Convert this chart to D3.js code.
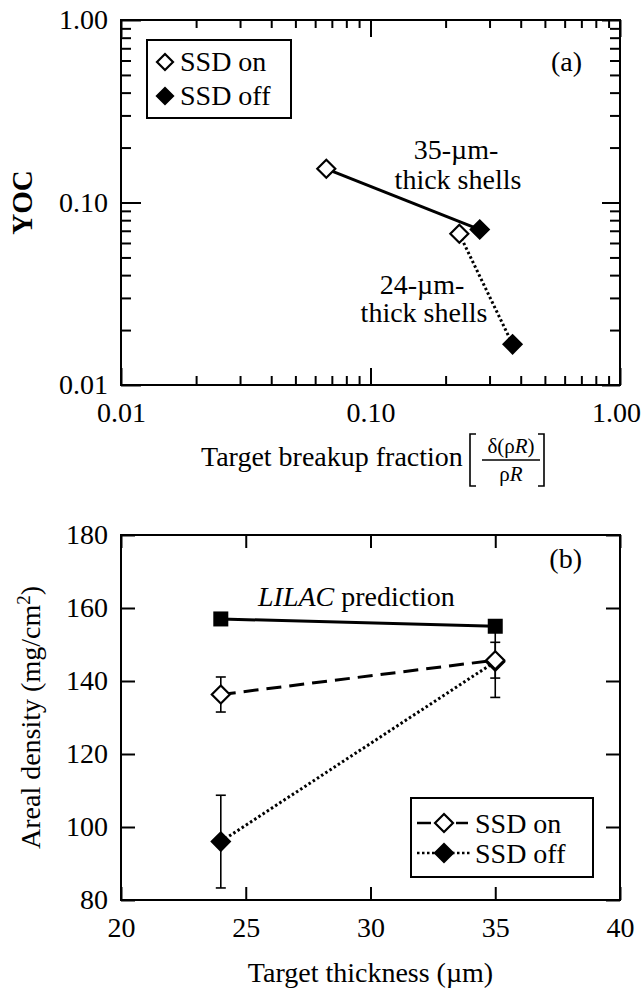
<!DOCTYPE html>
<html>
<head>
<meta charset="utf-8">
<script src="https://cdn.jsdelivr.net/npm/d3@7"></script>
</head>
<body style="margin:0;background:#fff">
<div id="chart"></div>
<script>
// panel (a): YOC vs target breakup fraction
var shells = ['35', '24'];
var breakupOn = [0.0665, 0.227];
var yocOn = [0.153, 0.0674];
var breakupOff = [0.274, 0.371];
var yocOff = [0.0711, 0.0167];
var logTicks = [0.01, 0.1, 1];

// panel (b): areal density vs target thickness
var thickness = [24, 35];
var lilac = [157, 155];
var rhoROn = [136.3, 145.7];
var rhoROnErr = [4.8, 4.9];
var rhoROff = [96, 145.3];
var rhoROffErr = [12.7, 9.8];
var thickTicks = [20, 25, 30, 35, 40];
var densityTicks = [80, 100, 120, 140, 160, 180];

var width = 642, height = 992;
var left = 121, right = 620;
var serif = '"Liberation Serif"';

var svg = d3.select('#chart').append('svg')
	.attr('width', width)
	.attr('height', height)
	.style('font-family', serif);

function label(g, x, y, str, anchor, size) {
	return g.append('text')
		.attr('x', x).attr('y', y)
		.attr('text-anchor', anchor || 'start')
		.style('font-family', serif)
		.style('font-size', (size || 28) + 'px')
		.style('fill', '#000')
		.text(str);
}

function styleAxis(g) {
	g.select('.domain').remove();
	g.attr('font-family', null).attr('font-size', null);
	g.selectAll('line').style('stroke', '#000').style('stroke-width', 2);
	g.selectAll('text').style('font-family', serif).style('font-size', '28px').style('fill', '#000');
}

function diamond(g, cx, cy, r, filled) {
	g.append('path')
		.attr('d', 'M' + cx + ',' + (cy - r) + 'L' + (cx + r) + ',' + cy + 'L' + cx + ',' + (cy + r) + 'L' + (cx - r) + ',' + cy + 'Z')
		.attr('fill', filled ? '#000' : '#fff')
		.attr('stroke', '#000')
		.attr('stroke-width', 2.2);
}

// ---------- panel (a) ----------
var aTop = 20, aBottom = 385;
var xa = d3.scaleLog().domain([0.01, 1]).range([left, right]);
var ya = d3.scaleLog().domain([0.01, 1]).range([aBottom, aTop]);

var minorLog = [];
[0.01, 0.1].forEach(function (d) {
	for (var i = 2; i <= 9; i++) minorLog.push(d * i);
});

var ga = svg.append('g');

ga.append('g').attr('transform', 'translate(0,' + aBottom + ')')
	.call(d3.axisBottom(xa).tickValues(logTicks).tickSize(-17).tickPadding(17).tickFormat(d3.format('.2f'))).call(styleAxis)
	.selectAll('text').filter(function (d) { return d === 1; }).attr('dx', -4);
ga.append('g').attr('transform', 'translate(0,' + aBottom + ')')
	.call(d3.axisBottom(xa).tickValues(minorLog).tickSize(-9).tickFormat('')).call(styleAxis);
ga.append('g').attr('transform', 'translate(0,' + aTop + ')')
	.call(d3.axisTop(xa).tickValues(logTicks).tickSize(-17).tickFormat('')).call(styleAxis);
ga.append('g').attr('transform', 'translate(0,' + aTop + ')')
	.call(d3.axisTop(xa).tickValues(minorLog).tickSize(-8).tickFormat('')).call(styleAxis);
ga.append('g').attr('transform', 'translate(' + left + ',0)')
	.call(d3.axisLeft(ya).tickValues(logTicks).tickSize(-20).tickPadding(13).tickFormat(d3.format('.2f'))).call(styleAxis);
ga.append('g').attr('transform', 'translate(' + left + ',0)')
	.call(d3.axisLeft(ya).tickValues(minorLog).tickSize(-10).tickFormat('')).call(styleAxis);
ga.append('g').attr('transform', 'translate(' + right + ',0)')
	.call(d3.axisRight(ya).tickValues(logTicks).tickSize(-18).tickFormat('')).call(styleAxis);
ga.append('g').attr('transform', 'translate(' + right + ',0)')
	.call(d3.axisRight(ya).tickValues(minorLog).tickSize(-10).tickFormat('')).call(styleAxis);

ga.append('rect')
	.attr('x', left).attr('y', aTop)
	.attr('width', right - left).attr('height', aBottom - aTop)
	.attr('fill', 'none').attr('stroke', '#000').attr('stroke-width', 2);

// lines: 35-um shells solid, 24-um shells dotted
ga.append('line')
	.attr('x1', xa(breakupOn[0])).attr('y1', ya(yocOn[0]))
	.attr('x2', xa(breakupOff[0])).attr('y2', ya(yocOff[0]))
	.attr('stroke', '#000').attr('stroke-width', 3);
ga.append('line')
	.attr('x1', xa(breakupOn[1])).attr('y1', ya(yocOn[1]))
	.attr('x2', xa(breakupOff[1])).attr('y2', ya(yocOff[1]))
	.attr('stroke', '#000').attr('stroke-width', 3).attr('stroke-dasharray', '2.5,2.5');

shells.forEach(function (s, i) {
	diamond(ga, xa(breakupOff[i]), ya(yocOff[i]), 9, true);
	diamond(ga, xa(breakupOn[i]), ya(yocOn[i]), 9, false);
});

// annotations
label(ga, 456, 159, '35-\u00b5m-', 'middle');
label(ga, 458, 189, 'thick shells', 'middle');
label(ga, 422, 294, '24-\u00b5m-', 'middle');
label(ga, 424, 322, 'thick shells', 'middle');
label(ga, 582, 71, '(a)', 'end');

// legend (a)
ga.append('rect').attr('x', 147).attr('y', 40).attr('width', 144).attr('height', 78)
	.attr('fill', '#fff').attr('stroke', '#000').attr('stroke-width', 2);
diamond(ga, 165, 62, 8, false);
diamond(ga, 165, 96, 8, true);
label(ga, 180, 71, 'SSD on');
label(ga, 180, 105, 'SSD off');

// axis titles (a)
label(ga, 0, 0, 'YOC', 'middle', 29)
	.attr('transform', 'translate(32,' + ((aTop + aBottom) / 2) + ') rotate(-90)')
	.style('font-weight', 'bold');

label(ga, 201, 466, 'Target breakup fraction');
var num = label(ga, 511, 453, '', 'middle', 21);
num.append('tspan').text('\u03b4(\u03c1');
num.append('tspan').style('font-style', 'italic').text('R');
num.append('tspan').text(')');
var den = label(ga, 511, 481, '', 'middle', 21);
den.append('tspan').text('\u03c1');
den.append('tspan').style('font-style', 'italic').text('R');
ga.append('line').attr('x1', 482).attr('x2', 540).attr('y1', 460).attr('y2', 460).attr('stroke', '#000').attr('stroke-width', 1.3);
ga.append('path').attr('d', 'M476,434 L470,434 L470,486 L476,486').attr('fill', 'none').attr('stroke', '#000').attr('stroke-width', 1.6);
ga.append('path').attr('d', 'M538,434 L544,434 L544,486 L538,486').attr('fill', 'none').attr('stroke', '#000').attr('stroke-width', 1.6);

// ---------- panel (b) ----------
var bTop = 535, bBottom = 900;
var xb = d3.scaleLinear().domain([20, 40]).range([left, right]);
var yb = d3.scaleLinear().domain([80, 180]).range([bBottom, bTop]);

var gb = svg.append('g');
gb.append('g').attr('transform', 'translate(0,' + bBottom + ')')
	.call(d3.axisBottom(xb).tickValues(thickTicks).tickSize(-13).tickPadding(17)).call(styleAxis);
gb.append('g').attr('transform', 'translate(0,' + bTop + ')')
	.call(d3.axisTop(xb).tickValues(thickTicks).tickSize(-13).tickFormat('')).call(styleAxis);
gb.append('g').attr('transform', 'translate(' + left + ',0)')
	.call(d3.axisLeft(yb).tickValues(densityTicks).tickSize(-14).tickPadding(13)).call(styleAxis);
gb.append('g').attr('transform', 'translate(' + right + ',0)')
	.call(d3.axisRight(yb).tickValues(densityTicks).tickSize(-14).tickFormat('')).call(styleAxis);

gb.append('rect')
	.attr('x', left).attr('y', bTop)
	.attr('width', right - left).attr('height', bBottom - bTop)
	.attr('fill', 'none').attr('stroke', '#000').attr('stroke-width', 2);

var lineB = d3.line()
	.x(function (d) { return xb(d[0]); })
	.y(function (d) { return yb(d[1]); });

gb.append('path').datum(d3.zip(thickness, lilac)).attr('d', lineB)
	.attr('fill', 'none').attr('stroke', '#000').attr('stroke-width', 3);
gb.append('path').datum(d3.zip(thickness, rhoROn)).attr('d', lineB)
	.attr('fill', 'none').attr('stroke', '#000').attr('stroke-width', 3).attr('stroke-dasharray', '15,8');
gb.append('path').datum(d3.zip(thickness, rhoROff)).attr('d', lineB)
	.attr('fill', 'none').attr('stroke', '#000').attr('stroke-width', 3).attr('stroke-dasharray', '2.5,2.5');

function errorBar(g, t, v, e) {
	var cx = xb(t), cap = 5;
	g.append('line').attr('x1', cx).attr('x2', cx).attr('y1', yb(v - e)).attr('y2', yb(v + e))
		.attr('stroke', '#000').attr('stroke-width', 1.6);
	[v - e, v + e].forEach(function (c) {
		g.append('line').attr('x1', cx - cap).attr('x2', cx + cap).attr('y1', yb(c)).attr('y2', yb(c))
			.attr('stroke', '#000').attr('stroke-width', 1.6);
	});
}

thickness.forEach(function (t, i) {
	errorBar(gb, t, rhoROff[i], rhoROffErr[i]);
	errorBar(gb, t, rhoROn[i], rhoROnErr[i]);
});

thickness.forEach(function (t, i) {
	gb.append('rect')
		.attr('x', xb(t) - 7.5).attr('y', yb(lilac[i]) - 7.5)
		.attr('width', 15).attr('height', 15)
		.attr('fill', '#000');
});
thickness.forEach(function (t, i) {
	diamond(gb, xb(t), yb(rhoROff[i]), 9, true);
});
thickness.forEach(function (t, i) {
	diamond(gb, xb(t), yb(rhoROn[i]), 9, false);
});

var lil = label(gb, 258, 606, '');
lil.append('tspan').style('font-style', 'italic').text('LILAC');
lil.append('tspan').text(' prediction');
label(gb, 582, 568, '(b)', 'end');

// legend (b)
gb.append('rect').attr('x', 411).attr('y', 798).attr('width', 182).attr('height', 79)
	.attr('fill', '#fff').attr('stroke', '#000').attr('stroke-width', 2);
gb.append('line').attr('x1', 417).attr('x2', 431).attr('y1', 823).attr('y2', 823).attr('stroke', '#000').attr('stroke-width', 2.5);
gb.append('line').attr('x1', 456).attr('x2', 468).attr('y1', 823).attr('y2', 823).attr('stroke', '#000').attr('stroke-width', 2.5);
diamond(gb, 444, 823, 9, false);
gb.append('line').attr('x1', 417).attr('x2', 470).attr('y1', 853).attr('y2', 853).attr('stroke', '#000').attr('stroke-width', 2.5).attr('stroke-dasharray', '2.5,2.5');
diamond(gb, 444, 853, 9, true);
label(gb, 475, 833, 'SSD on');
label(gb, 475, 863, 'SSD off');

// axis titles (b)
var yl = label(gb, 0, 0, '', 'middle')
	.attr('transform', 'translate(40,' + ((bTop + bBottom) / 2) + ') rotate(-90)');
yl.append('tspan').text('Areal density (mg/cm');
yl.append('tspan').attr('dy', -10).style('font-size', '19px').text('2');
yl.append('tspan').attr('dy', 10).text(')');

label(gb, (left + right) / 2, 982, 'Target thickness (\u00b5m)', 'middle');
</script>
</body>
</html>
